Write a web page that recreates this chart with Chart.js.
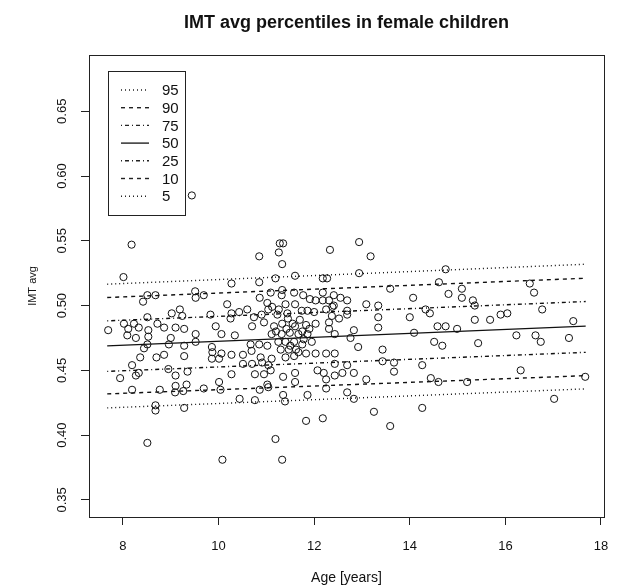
<!DOCTYPE html>
<html>
<head>
<meta charset="utf-8">
<title>IMT avg percentiles in female children</title>
<script src="https://cdn.jsdelivr.net/npm/chart.js@4/dist/chart.umd.min.js"></script>
<style>
  html, body { margin: 0; padding: 0; background: #fff; }
  canvas { display: block; }
</style>
</head>
<body>
<canvas id="imtChart" width="618" height="587"></canvas>
<script>
// scatter: age (years) and IMT avg
const ages = [
  9.44, 8.18, 8.01, 8.51, 8.68, 8.42, 9.51, 9.52, 9.69, 7.69, 8.02, 8.11, 8.23, 8.33, 8.51, 8.53, 8.53,
  8.09, 8.27, 8.72, 8.86, 9.02, 9.19, 9.24, 9.10, 9.28, 9.00, 8.96, 9.52, 9.52, 9.83, 9.94, 10.06, 8.51,
  8.44, 9.28, 9.86, 9.87, 9.86, 10.01, 10.06, 8.36, 8.70, 8.86, 9.28, 8.19, 8.33, 7.94, 8.27, 8.95, 9.10,
  9.35, 8.19, 8.77, 9.10, 9.09, 9.26, 9.33, 9.69, 10.01, 10.04, 8.68, 8.68, 9.28, 8.51, 10.08,
  11.28, 11.35, 11.26, 10.85, 11.33, 12.33, 10.27, 10.85, 11.19, 11.60, 12.18, 12.27, 11.09, 11.33, 11.32,
  10.86, 11.58, 11.77, 11.91, 12.03, 12.18, 12.18, 12.31, 10.18, 11.02, 11.12, 11.26, 11.40, 11.60, 11.04,
  10.27, 10.43, 10.60, 10.74, 10.25, 10.90, 11.23, 11.44, 11.74, 11.86, 12.00, 12.25, 12.38, 10.34, 10.70,
  10.95, 11.16, 11.33, 11.60, 11.83, 12.03, 12.31, 12.31, 11.11, 11.32, 11.49, 11.67, 11.86, 10.67, 10.85,
  11.02, 11.25, 11.40, 11.58, 11.75, 11.95, 11.30, 11.47, 11.67, 11.83, 10.69, 10.27, 10.51, 10.88, 11.11,
  11.40, 11.58, 12.03, 12.25, 10.51, 10.70, 10.91, 11.04, 12.07, 12.20, 10.27, 10.76, 10.95, 11.09, 11.35,
  11.60, 12.25, 11.02, 11.60, 10.86, 12.25, 11.04, 10.44, 10.76, 11.35, 11.39, 11.86, 11.83, 12.18, 11.19,
  11.33, 11.45, 11.55, 11.70, 11.50, 11.62, 11.78, 11.20, 11.90, 11.42, 11.75,
  12.94, 13.18, 12.94, 14.75, 13.59, 14.61, 15.09, 14.81, 15.09, 14.07, 12.41, 12.55, 12.69, 12.41, 13.09,
  13.34, 12.69, 12.69, 12.37, 12.52, 13.34, 14.00, 14.33, 14.42, 13.34, 12.83, 12.43, 12.76, 14.09, 14.58,
  14.75, 14.99, 14.51, 14.68, 12.92, 13.43, 12.43, 13.43, 13.67, 14.26, 12.43, 12.69, 13.67, 12.83, 12.59,
  12.43, 13.09, 14.44, 14.60, 12.69, 12.83, 13.25, 14.26, 13.59,
  16.51, 16.60, 15.32, 15.36, 16.77, 15.36, 15.68, 15.90, 16.04, 17.42, 16.23, 16.63, 16.74, 17.33, 15.43,
  16.32, 15.20, 17.67, 17.02
];
const imtAvg = [
  0.585, 0.547, 0.522, 0.508, 0.508, 0.503, 0.511, 0.506, 0.508, 0.481, 0.486, 0.482, 0.486, 0.483, 0.491, 0.481, 0.476,
  0.477, 0.475, 0.486, 0.483, 0.494, 0.497, 0.492, 0.483, 0.482, 0.475, 0.470, 0.478, 0.472, 0.493, 0.484, 0.478, 0.470,
  0.467, 0.469, 0.468, 0.464, 0.459, 0.459, 0.463, 0.460, 0.460, 0.462, 0.461, 0.454, 0.448, 0.444, 0.446, 0.451, 0.446,
  0.449, 0.435, 0.435, 0.438, 0.433, 0.434, 0.439, 0.436, 0.441, 0.435, 0.423, 0.419, 0.421, 0.394, 0.381,
  0.548, 0.548, 0.541, 0.538, 0.532, 0.543, 0.517, 0.518, 0.521, 0.523, 0.521, 0.521, 0.510, 0.512, 0.508,
  0.506, 0.510, 0.508, 0.505, 0.504, 0.510, 0.504, 0.504, 0.501, 0.502, 0.499, 0.497, 0.501, 0.501, 0.497,
  0.494, 0.495, 0.497, 0.491, 0.490, 0.493, 0.493, 0.494, 0.496, 0.496, 0.495, 0.497, 0.499, 0.477, 0.484,
  0.487, 0.484, 0.486, 0.484, 0.485, 0.486, 0.487, 0.482, 0.478, 0.478, 0.479, 0.478, 0.478, 0.470, 0.470,
  0.469, 0.472, 0.472, 0.472, 0.470, 0.472, 0.466, 0.466, 0.464, 0.463, 0.465, 0.462, 0.462, 0.460, 0.459,
  0.460, 0.461, 0.463, 0.463, 0.455, 0.455, 0.456, 0.454, 0.450, 0.448, 0.447, 0.447, 0.447, 0.450, 0.445,
  0.448, 0.443, 0.439, 0.441, 0.435, 0.436, 0.437, 0.428, 0.427, 0.431, 0.426, 0.431, 0.411, 0.413, 0.397,
  0.381, 0.490, 0.486, 0.489, 0.469, 0.466, 0.474, 0.480, 0.482, 0.482, 0.480,
  0.549, 0.538, 0.525, 0.528, 0.513, 0.518, 0.513, 0.509, 0.506, 0.506, 0.508, 0.506, 0.504, 0.500, 0.501,
  0.500, 0.496, 0.493, 0.492, 0.490, 0.491, 0.491, 0.497, 0.494, 0.483, 0.481, 0.478, 0.475, 0.479, 0.484,
  0.484, 0.482, 0.472, 0.469, 0.468, 0.466, 0.463, 0.457, 0.456, 0.454, 0.455, 0.454, 0.449, 0.448, 0.448,
  0.446, 0.443, 0.444, 0.441, 0.433, 0.428, 0.418, 0.421, 0.407,
  0.517, 0.510, 0.504, 0.500, 0.497, 0.489, 0.489, 0.493, 0.494, 0.488, 0.477, 0.477, 0.472, 0.475, 0.471,
  0.450, 0.441, 0.445, 0.428
];

// percentile lines: value at the youngest and oldest age
const pctLabels = ['95', '90', '75', '50', '25', '10', '5'];
const lineAges = [7.67, 17.68];
const pctStart = [0.5165, 0.5062, 0.4882, 0.4689, 0.4492, 0.4318, 0.4210];
const pctEnd = [0.5319, 0.5211, 0.5031, 0.4841, 0.4639, 0.4459, 0.4357];

const xTicks = [8, 10, 12, 14, 16, 18];
const yTicks = [0.35, 0.40, 0.45, 0.50, 0.55, 0.60, 0.65];

// R line types: dotted, dashed, dotdash, solid
const dotted = [1, 3], dashed = [4, 4], dotdash = [1, 3, 4, 3];
const pctDash = [dotted, dashed, dotdash, [], dotdash, dashed, dotted];

const font = '"Liberation Sans", Arial, Helvetica, sans-serif';
const ink = '#111';

// box, rotated y labels and the legend, R style
const rStyle = {
  id: 'rStyle',
  afterDraw(chart) {
    const { ctx, chartArea: a, scales } = chart;
    ctx.save();
    ctx.strokeStyle = '#222';
    ctx.lineWidth = 1;
    ctx.setLineDash([]);
    ctx.strokeRect(Math.round(a.left) + 0.5, Math.round(a.top) + 0.5,
      Math.round(a.right - a.left), Math.round(a.bottom - a.top));

    ctx.fillStyle = ink;
    ctx.font = '13px ' + font;
    ctx.textAlign = 'center';
    ctx.textBaseline = 'middle';
    yTicks.forEach(v => {
      ctx.save();
      ctx.translate(62, scales.y.getPixelForValue(v));
      ctx.rotate(-Math.PI / 2);
      ctx.fillText(v.toFixed(2), 0, 0);
      ctx.restore();
    });

    // legend box
    const lx = a.left + 19, ly = a.top + 16;
    ctx.fillStyle = '#fff';
    ctx.fillRect(lx, ly, 77, 144);
    ctx.strokeRect(Math.round(lx) + 0.5, Math.round(ly) + 0.5, 77, 144);
    ctx.font = '15px ' + font;
    ctx.textAlign = 'left';
    pctLabels.forEach((lab, i) => {
      const ry = ly + 19 + i * 17.7;
      ctx.lineWidth = 1.4;
      ctx.setLineDash(pctDash[i]);
      ctx.beginPath();
      ctx.moveTo(lx + 13, ry);
      ctx.lineTo(lx + 41, ry);
      ctx.stroke();
      ctx.setLineDash([]);
      ctx.fillStyle = ink;
      ctx.fillText(lab, lx + 54, ry + 1);
    });
    ctx.restore();
  }
};

const datasets = [{
  type: 'scatter',
  label: 'IMT avg',
  data: ages.map((a, i) => ({ x: a, y: imtAvg[i] })),
  pointRadius: 3.6,
  pointBorderWidth: 1,
  borderColor: ink,
  backgroundColor: 'rgba(0,0,0,0)'
}];
pctLabels.forEach((lab, i) => {
  datasets.push({
    type: 'line',
    label: lab,
    data: [{ x: lineAges[0], y: pctStart[i] }, { x: lineAges[1], y: pctEnd[i] }],
    borderColor: ink,
    borderWidth: 1.4,
    borderDash: pctDash[i],
    pointRadius: 0,
    fill: false
  });
});

new Chart(document.getElementById('imtChart'), {
  type: 'scatter',
  data: { datasets },
  options: {
    responsive: false,
    animation: false,
    layout: { padding: { left: 0, right: 14, top: 0, bottom: 0 } },
    plugins: {
      legend: { display: false },
      tooltip: { enabled: false },
      title: {
        display: true,
        fullSize: false,
        text: 'IMT avg percentiles in female children',
        color: ink,
        font: { family: font, size: 18, weight: 'bold' },
        padding: { top: 12, bottom: 21.4 }
      }
    },
    scales: {
      x: {
        type: 'linear',
        min: 7.289,
        max: 18.063,
        afterBuildTicks: s => { s.ticks = xTicks.map(v => ({ value: v })); },
        afterFit: s => { s.height = 70; s.paddingLeft = 0; s.paddingRight = 0; },
        grid: { drawOnChartArea: false, drawTicks: true, tickLength: 8, color: '#222' },
        border: { display: false },
        ticks: { color: ink, padding: 14, font: { family: font, size: 13 }, callback: v => String(v) },
        title: { display: true, text: 'Age [years]', color: ink, font: { family: font, size: 14 }, padding: { top: 0, bottom: 0.5 } }
      },
      y: {
        type: 'linear',
        min: 0.3368,
        max: 0.6934,
        afterBuildTicks: s => { s.ticks = yTicks.map(v => ({ value: v })); },
        afterFit: s => { s.width = 89; },
        grid: { drawOnChartArea: false, drawTicks: true, tickLength: 8, color: '#222' },
        border: { display: false },
        ticks: { display: false },
        title: { display: true, text: 'IMT avg', color: ink, font: { family: font, size: 11 }, padding: { top: 26, bottom: 0 } }
      }
    }
  },
  plugins: [rStyle]
});
</script>
</body>
</html>
